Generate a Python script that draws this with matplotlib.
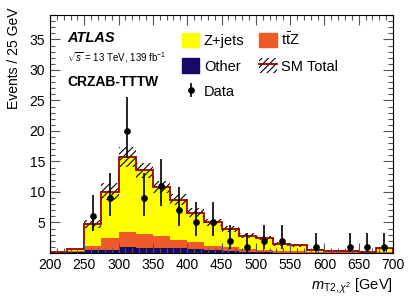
import numpy as np
import matplotlib
matplotlib.use('Agg')
import matplotlib.pyplot as plt
from matplotlib.patches import Patch
from matplotlib.lines import Line2D
from matplotlib.ticker import MultipleLocator, FixedLocator

plt.rcParams['font.family'] = ['Liberation Sans', 'DejaVu Sans']
plt.rcParams['mathtext.fontset'] = 'custom'
plt.rcParams['mathtext.rm'] = 'Liberation Sans'
plt.rcParams['mathtext.it'] = 'Liberation Sans:italic'
plt.rcParams['mathtext.bf'] = 'Liberation Sans:bold'
plt.rcParams['hatch.color'] = 'black'
plt.rcParams['hatch.linewidth'] = 0.8

# Bin edges of m_T2 (GeV)
edges = [200, 225, 250, 275, 300, 325, 350, 375, 400, 425, 450,
         475, 500, 525, 550, 575, 600, 625, 650, 675, 700]

# Background expectations per bin
other = [0.0, 0.1, 0.45, 0.5, 0.95, 0.9, 0.85, 0.75, 0.6, 0.45,
         0.35, 0.12, 0.1, 0.08, 0.06, 0.04, 0.03, 0.03, 0.02, 0.05]
ttz = [0.02, 0.15, 0.75, 1.9, 2.45, 2.2, 1.95, 1.35, 1.25, 0.75,
       0.65, 0.48, 0.4, 0.27, 0.24, 0.08, 0.07, 0.09, 0.04, 0.15]
zjets = [0.08, 0.45, 3.55, 7.65, 12.3, 10.45, 8.0, 6.6, 4.75, 3.8,
         3.0, 2.2, 1.9, 1.15, 0.95, 0.33, 0.25, 0.28, 0.16, 0.6]
sm_unc = [0.05, 0.15, 0.7, 1.4, 1.6, 1.2, 1.0, 0.9, 0.7, 0.6,
          0.5, 0.4, 0.35, 0.3, 0.3, 0.15, 0.1, 0.1, 0.08, 0.2]

# Observed data and Poisson (Garwood) errors
data = [0, 0, 6, 9, 20, 9, 11, 7, 5, 5, 2, 1, 2, 2, 0, 1, 0, 1, 1, 1]
data_lo = [0, 0, 2.377, 2.943, 4.434, 2.943, 3.265, 2.580, 2.158, 2.158,
           1.292, 0.827, 1.292, 1.292, 0, 0.827, 0, 0.827, 0.827, 0.827]
data_hi = [0, 0, 3.583, 4.110, 5.546, 4.110, 4.416, 3.770, 3.382, 3.382,
           2.637, 2.299, 2.637, 2.637, 0, 2.299, 0, 2.299, 2.299, 2.299]

edges_a = np.array(edges)
centers = 0.5 * (edges_a[1:] + edges_a[:-1])
widths = np.diff(edges_a)

c_other = np.array(other)
c_ttz = c_other + np.array(ttz)
c_total = c_ttz + np.array(zjets)
unc = np.array(sm_unc)

col_zjets = '#ffff00'
col_ttz = '#f05a28'
col_other = '#160a66'
col_line = '#990000'

fig = plt.figure(figsize=(4.15, 2.98), dpi=100)
ax = fig.add_axes([0.1205, 0.151, 0.8265, 0.7987])

# stacked histograms
ax.stairs(c_total, edges, baseline=c_ttz, fill=True, color=col_zjets, lw=0)
ax.stairs(c_ttz, edges, baseline=c_other, fill=True, color=col_ttz, lw=0)
ax.stairs(c_other, edges, baseline=0, fill=True, color=col_other, lw=0)

# uncertainty band
ax.bar(centers, 2 * unc, bottom=c_total - unc, width=widths, fill=False,
       hatch='/////', linewidth=0, edgecolor='black')
ax.stairs(c_total, edges, color=col_line, lw=1.3)

# data
mask = np.array(data) > 0
d = ax.errorbar(centers[mask], np.array(data)[mask],
                yerr=[np.array(data_lo)[mask], np.array(data_hi)[mask]],
                fmt='o', color='black', ms=3.8, elinewidth=1.2, capsize=0)

ax.set_xlim(200, 700)
ax.set_ylim(0, 39)
ax.xaxis.set_major_locator(MultipleLocator(50))
ax.xaxis.set_minor_locator(MultipleLocator(10))
ax.yaxis.set_major_locator(FixedLocator([5, 10, 15, 20, 25, 30, 35]))
ax.yaxis.set_minor_locator(MultipleLocator(1))
ax.tick_params(which='both', direction='in', top=True, right=True,
               labelsize=10, color='#555555')
ax.tick_params(which='major', length=7, width=0.8)
ax.tick_params(which='minor', length=3.5, width=0.8)
for s in ax.spines.values():
    s.set_linewidth(0.8)

ax.set_xlabel(r'$m_{\mathrm{T2},\chi^2}$ [GeV]', fontsize=10.5, ha='right', x=1.0)
ax.xaxis.set_label_coords(1.0, -0.10)
ax.set_ylabel('Events / 25 GeV', fontsize=10, ha='right', y=1.0)
ax.yaxis.set_label_coords(-0.085, 1.03)

ax.text(0.05, 0.905, 'ATLAS', transform=ax.transAxes, fontsize=10.5,
        fontweight='bold', fontstyle='italic', va='center')
ax.text(0.05, 0.82, r'$\sqrt{s}$ = 13 TeV, 139 fb$^{-1}$', transform=ax.transAxes,
        fontsize=7, va='center')
ax.text(0.05, 0.72, 'CRZAB-TTTW', transform=ax.transAxes, fontsize=10,
        fontweight='bold', va='center')

h_z = Patch(facecolor=col_zjets, edgecolor=col_zjets)
h_o = Patch(facecolor=col_other, edgecolor=col_other)
h_t = Patch(facecolor=col_ttz, edgecolor=col_ttz)
h_sm = (Patch(facecolor='none', edgecolor='black', hatch='/////', linewidth=0),
        Line2D([], [], color=col_line, lw=1.3))
ax.legend([h_z, h_o, d, h_t, h_sm],
          ['Z+jets', 'Other', 'Data', r'$\mathrm{t\bar{t}Z}$', 'SM Total'],
          ncol=2, loc='upper left', bbox_to_anchor=(0.355, 0.975), frameon=False,
          fontsize=10.5, handlelength=1.2, handleheight=1.2, labelspacing=0.7,
          columnspacing=1.0, handletextpad=0.3, borderpad=0.2)

fig.savefig('out.png', dpi=100)
